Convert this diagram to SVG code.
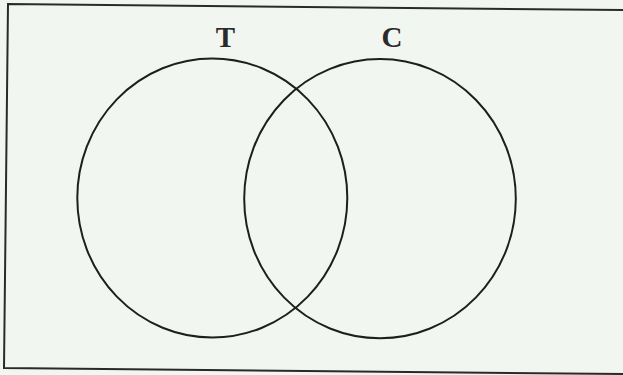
<svg xmlns="http://www.w3.org/2000/svg" width="623" height="375" viewBox="0 0 623 375">
<style>
.c{fill:none;stroke:#1e1e1e;stroke-width:2}
.b{fill:none;stroke:#2a2a2a;stroke-width:2}
.t{font-family:"Liberation Serif","Times New Roman",serif;font-weight:bold;font-size:29px;fill:#2a2a2a;text-anchor:middle}
</style>
<rect width="623" height="375" fill="#f2f6f1"/>
<g id="frame"><path class="b" d="M623,10 L8,4 L4,368 L623,374"/></g>
<g id="setT"><ellipse class="c" cx="212.3" cy="198" rx="135" ry="139.5"/><text class="t" x="225.5" y="47">T</text></g>
<g id="setC"><ellipse class="c" cx="380" cy="198.7" rx="135.8" ry="139.6"/><text class="t" x="392" y="47">C</text></g>
</svg>
